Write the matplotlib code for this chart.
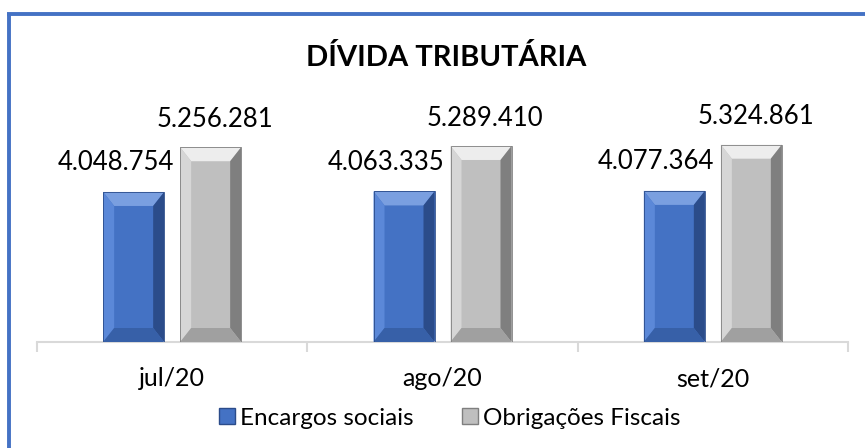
import numpy as np
import matplotlib.pyplot as plt
from matplotlib.patches import Polygon, Patch
from matplotlib.lines import Line2D

# data
months = ['jul/20', 'ago/20', 'set/20']
encargos = [4048754, 4063335, 4077364]
obrigacoes = [5256281, 5289410, 5324861]
series_names = ['Encargos sociais', 'Obrigações Fiscais']


def fmt(v):
    return f"{v:,}".replace(',', '.')


plt.rcParams['font.family'] = ['Lato', 'DejaVu Sans']

W, H, DPI = 865, 448, 100
fig = plt.figure(figsize=(W / DPI, H / DPI), dpi=DPI)
ax = fig.add_axes([37 / W, 106 / H, (848 - 37) / W, 282 / H])

ymax = 7.61e6
ax.set_xlim(-0.5, 2.5)
ax.set_ylim(0, ymax)

# pixel -> data units
px_x = 3.0 / (848 - 37)
px_y = ymax / 282

x = np.arange(len(months))
bw = 61 * px_x
off = (61 + 16) / 2 * px_x

# colours: main, top, left, right, bottom
blue = ['#4472C4', '#7A9FE0', '#5B88D8', '#2B4C8A', '#3760A8']
gray = ['#BFBFBF', '#EDEDED', '#D6D6D6', '#7F7F7F', '#A0A0A0']


def bevel_bar(xc, h, cols):
    x0, x1 = xc - bw / 2, xc + bw / 2
    bx, by = 11 * px_x, 14 * px_y
    ax.bar(xc, h, width=bw, color=cols[0], edgecolor='none', zorder=2)
    facets = [
        ([(x0, h), (x1, h), (x1 - bx, h - by), (x0 + bx, h - by)], cols[1]),
        ([(x0, 0), (x0, h), (x0 + bx, h - by), (x0 + bx, by)], cols[2]),
        ([(x1, 0), (x1, h), (x1 - bx, h - by), (x1 - bx, by)], cols[3]),
        ([(x0, 0), (x1, 0), (x1 - bx, by), (x0 + bx, by)], cols[4]),
    ]
    for pts, c in facets:
        ax.add_patch(Polygon(pts, closed=True, facecolor=c, edgecolor='none', zorder=3))
    ax.add_patch(Polygon([(x0, 0), (x0, h), (x1, h), (x1, 0)], closed=True,
                         fill=False, edgecolor=cols[3], linewidth=0.6, zorder=4))


for i in range(len(months)):
    bevel_bar(x[i] - off, encargos[i], blue)
    bevel_bar(x[i] + off, obrigacoes[i], gray)
    ax.annotate(fmt(encargos[i]), (x[i] - off, encargos[i]), xytext=(-13, 12),
                textcoords='offset points', ha='center', va='bottom', fontsize=18.5)
    ax.annotate(fmt(obrigacoes[i]), (x[i] + off, obrigacoes[i]), xytext=(3, 11),
                textcoords='offset points', ha='center', va='bottom', fontsize=18.5)

for s in ['top', 'right', 'left']:
    ax.spines[s].set_visible(False)
ax.spines['bottom'].set_color('#D9D9D9')
ax.spines['bottom'].set_linewidth(1.5)
ax.set_yticks([])
ax.set_xticks(x)
ax.set_xticklabels(months, fontsize=18)
ax.tick_params(axis='x', which='major', length=0, pad=18)
ax.set_xticks([-0.5, 0.5, 1.5, 2.5], minor=True)
ax.tick_params(axis='x', which='minor', length=7, width=1.5, color='#D9D9D9')

fig.text(446 / W, 1 - 57 / H, 'DÍVIDA TRIBUTÁRIA', ha='center', va='center',
         fontsize=21, fontweight='bold')

handles = [Patch(facecolor=blue[0], edgecolor=blue[3]),
           Patch(facecolor=gray[0], edgecolor=gray[3])]
fig.legend(handles, series_names, loc='center', bbox_to_anchor=(450 / W, 30 / H),
           ncol=2, frameon=False, fontsize=17.5, handlelength=0.65, handleheight=0.65,
           handletextpad=0.2, columnspacing=2.0)

# blue frame (only top and left visible)
fig.add_artist(Line2D([8.5 / W, 8.5 / W], [0, 1 - 13 / H], color='#4472C4', lw=2.8,
                      transform=fig.transFigure, solid_capstyle='butt'))
fig.add_artist(Line2D([7 / W, 1], [1 - 14.5 / H, 1 - 14.5 / H], color='#4472C4', lw=2.8,
                      transform=fig.transFigure, solid_capstyle='butt'))

fig.savefig('out.png', dpi=DPI)
